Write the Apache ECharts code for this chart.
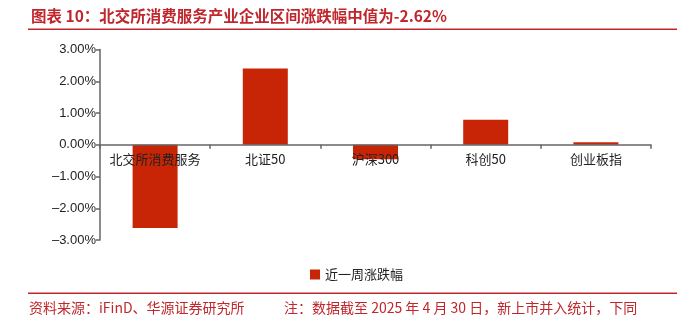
<!DOCTYPE html>
<html><head><meta charset="utf-8">
<script src="https://cdn.jsdelivr.net/npm/echarts@6/dist/echarts.min.js"></script>
<style>html,body{margin:0;padding:0;background:#fff}#c{width:682px;height:334px}</style>
</head><body><div id="c"></div>
<script>
const categories = ['北交所消费服务', '北证50', '沪深300', '科创50', '创业板指'];
const seriesName = '近一周涨跌幅';
const values = [-2.62, 2.40, -0.46, 0.79, 0.08];
const yTicks = [-3, -2, -1, 0, 1, 2, 3];
const titleText = '图表 10：北交所消费服务产业企业区间涨跌幅中值为-2.62%';
const sourceText = '资料来源：iFinD、华源证券研究所';
const noteText = '注：数据截至 2025 年 4 月 30 日，新上市并入统计，下同';

const red = '#C0272D';
const gridTop = 49.5, gridBottom = 94, plotH = 334 - gridTop - gridBottom;
const yMin = yTicks[0], yMax = yTicks[yTicks.length - 1];
const zeroOffset = -plotH * (0 - yMin) / (yMax - yMin);

const chart = echarts.init(document.getElementById('c'), null, {renderer: 'canvas'});
chart.setOption({
  animation: false,
  textStyle: {fontFamily: 'Liberation Sans, Noto Sans CJK SC'},
  grid: {left: 100, right: 31, top: gridTop, bottom: gridBottom, containLabel: false},
  xAxis: {
    type: 'category', data: categories, position: 'bottom', offset: zeroOffset,
    axisLine: {onZero: false, lineStyle: {color: '#666', width: 1.5}},
    axisTick: {show: true, alignWithLabel: false, length: 4, lineStyle: {color: '#666', width: 1.5}},
    axisLabel: {color: '#222', fontSize: 13, margin: 8, interval: 0, fontFamily: 'Noto Sans CJK SC'},
    z: 10
  },
  yAxis: {
    type: 'value', min: yMin, max: yMax, interval: 1,
    axisLine: {show: true, onZero: false, lineStyle: {color: '#666', width: 1.5}},
    axisTick: {show: true, length: 4, lineStyle: {color: '#666', width: 1.5}},
    splitLine: {show: false},
    axisLabel: {color: '#222', fontSize: 13, margin: 4, fontFamily: 'Liberation Sans',
      formatter: v => (v < 0 ? '–' : '') + Math.abs(v).toFixed(2) + '%'}
  },
  legend: {
    data: [seriesName], left: 305, top: 263, itemWidth: 10, itemHeight: 10, itemGap: 4,
    icon: 'rect', textStyle: {fontSize: 13, color: '#222', fontFamily: 'Noto Sans CJK SC'}
  },
  series: [{
    name: seriesName, type: 'bar', data: values, barWidth: 45,
    itemStyle: {color: '#C82506'}
  }],
  graphic: [
    {type: 'text', left: 31, top: 8, style: {text: titleText, fill: red, font: 'bold 15.5px "Noto Sans CJK SC"'}},
    {type: 'rect', shape: {x: 28, y: 28.5, width: 649, height: 1.5}, style: {fill: red}},
    {type: 'rect', shape: {x: 28, y: 292.5, width: 649, height: 1.5}, style: {fill: red}},
    {type: 'text', left: 29, top: 301, style: {text: sourceText, fill: red, font: '14px "Noto Sans CJK SC"'}},
    {type: 'text', left: 284, top: 301, style: {text: noteText, fill: red, font: '14px "Noto Sans CJK SC"'}}
  ]
});
</script></body></html>
